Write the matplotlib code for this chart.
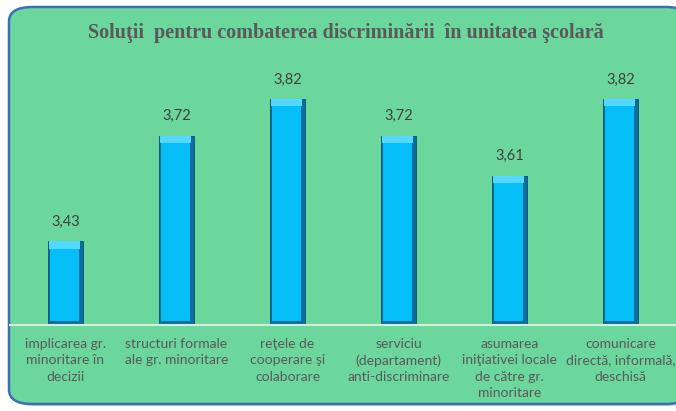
"""Bar chart: soluţii pentru combaterea discriminării în unitatea şcolară."""

import matplotlib.pyplot as plt
from matplotlib.patches import FancyBboxPatch

categories = [
    "implicarea gr.\nminoritare în\ndecizii",
    "structuri formale\nale gr. minoritare",
    "reţele de\ncooperare şi\ncolaborare",
    "serviciu\n(departament)\nanti-discriminare",
    "asumarea\niniţiativei locale\nde către gr.\nminoritare",
    "comunicare\ndirectă, informală,\ndeschisă",
]
values = [3.43, 3.72, 3.82, 3.72, 3.61, 3.82]
value_labels = ["3,43", "3,72", "3,82", "3,72", "3,61", "3,82"]
title = "Soluţii  pentru combaterea discriminării  în unitatea şcolară"

GREEN = "#6CD79C"
TEXT = "#595959"

fig = plt.figure(figsize=(6.76, 4.11), dpi=100)
fig.patch.set_facecolor("white")

# rounded green panel (runs off the right edge like the original)
W, H = 676, 411
panel = FancyBboxPatch(
    (9 / W, 7 / H), 680 / W, 397 / H,
    boxstyle="round,pad=0,rounding_size=0.035",
    transform=fig.transFigure, facecolor=GREEN, edgecolor="#3B6FB6",
    linewidth=1.8, zorder=-2,
)
shadow = FancyBboxPatch(
    (11 / W, 5 / H), 680 / W, 397 / H,
    boxstyle="round,pad=0,rounding_size=0.035",
    transform=fig.transFigure, facecolor="#9aa9b8", edgecolor="none",
    alpha=0.5, zorder=-3,
)
fig.patches.extend([shadow, panel])

fig.text(346 / W, 1 - 33 / H, title, ha="center", va="center",
         family="Liberation Serif", fontweight="bold", fontsize=14.5, color=TEXT)

ax = fig.add_axes([10 / W, 86 / H, 666 / W, 255 / H])
ax.set_zorder(1)
ax.patch.set_alpha(0)
x = list(range(len(values)))
ymin = 3.2

# bevelled bars: dark body, lighter face, bright top
ax.bar(x, [v - ymin for v in values], bottom=ymin, width=0.31,
       color="#0C6E9C", edgecolor="#0A4F72", linewidth=0.6, zorder=2)
ax.bar([i - 0.012 for i in x], [v - ymin - 0.025 for v in values],
       bottom=ymin + 0.012, width=0.26, color="#06BEF7", linewidth=0, zorder=3)
ax.bar([i - 0.012 for i in x], [0.02] * len(values),
       bottom=[v - 0.02 for v in values], width=0.28, color="#55D8FF",
       linewidth=0, zorder=4)

for xi, v, lab in zip(x, values, value_labels):
    ax.text(xi, v + 0.035, lab, ha="center", va="bottom", fontsize=10.5,
            family="Lato", color="#404040")

ax.set_xlim(-0.5, len(values) - 0.5)
ax.set_ylim(ymin, 3.9)
ax.set_yticks([])
ax.set_xticks(x)
ax.set_xticklabels(categories, family="Lato", fontsize=10, color=TEXT,
                   linespacing=1.45)
ax.tick_params(axis="x", length=0, pad=9)
for side in ["top", "left", "right"]:
    ax.spines[side].set_visible(False)
ax.spines["bottom"].set_color("#D2EEDD")
ax.spines["bottom"].set_linewidth(1.5)

fig.savefig("out.png", dpi=100)
